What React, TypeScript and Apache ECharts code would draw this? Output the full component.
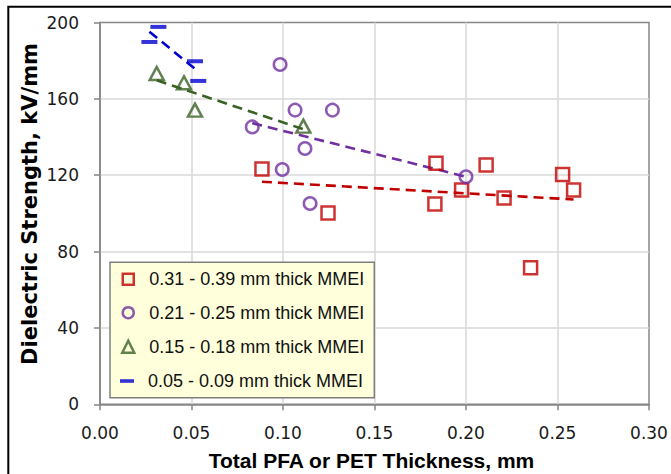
import React, { useEffect, useRef } from "react";
import * as echarts from "echarts";

// ---- data ----
const seriesNames = [
  "0.31 - 0.39 mm thick MMEI",
  "0.21 - 0.25 mm thick MMEI",
  "0.15 - 0.18 mm thick MMEI",
  "0.05 - 0.09 mm thick MMEI",
];

const redX = [0.0885, 0.1246, 0.1836, 0.183, 0.1976, 0.211, 0.2208, 0.2353, 0.2528, 0.2588];
const redY = [123.2, 100.2, 126.3, 104.9, 112.2, 125.3, 108.1, 71.5, 120.4, 112.2];

const purpleX = [0.0984, 0.1066, 0.127, 0.0832, 0.112, 0.0996, 0.1148, 0.2];
const purpleY = [178.0, 154.1, 154.1, 145.3, 134.0, 123.0, 105.2, 119.2];

const greenX = [0.031, 0.0459, 0.0519, 0.1111];
const greenY = [173.3, 168.4, 154.1, 145.7];

const blueX = [0.0319, 0.027, 0.0519, 0.0537];
const blueY = [197.7, 189.8, 179.7, 169.4];

// trend line end points
const redTrendX = [0.0885, 0.2588];
const redTrendY = [116.6, 107.3];
const purpleTrendX = [0.0832, 0.2];
const purpleTrendY = [147.3, 119.2];
const greenTrendX = [0.031, 0.1111];
const greenTrendY = [169.7, 144.1];
const blueTrendX = [0.027, 0.0537];
const blueTrendY = [195.2, 174.3];

const xTicks = { min: 0, max: 0.3, interval: 0.05 };
const yTicks = { min: 0, max: 200, interval: 40 };

const xTitle = "Total PFA or PET Thickness, mm";
const yTitle = "Dielectric Strength, kV/mm";

const zip = (xs: number[], ys: number[]) => xs.map((x, i) => [x, ys[i]]);

const RED = "#c00000";
const PURPLE = "#7030a0";
const GREEN = "#3a6126";
const BLUE = "#0000d0";

export default function App() {
  const ref = useRef<HTMLDivElement>(null);

  useEffect(() => {
    if (!ref.current) return;
    const chart = echarts.init(ref.current, undefined, { renderer: "svg" });

    const axisGray = "#868686";
    const gridGray = "#d9d9d9";
    const dash = [10, 6];

    const hollow = (c: string) => ({ color: "rgba(0,0,0,0)", borderColor: c, borderWidth: 2.5 });

    const trend = (name: string, xs: number[], ys: number[], c: string) => ({
      type: "line",
      name,
      data: zip(xs, ys),
      symbol: "none",
      silent: true,
      z: 3,
      lineStyle: { color: c, width: 2.6, type: dash },
    });

    const legendRows = [279.3, 312.7, 346.7, 381];
    const legendIconCenterX = 127;
    const legendIcons = [
      "path://M0,0H11V11H0Z",
      "circle",
      "path://M6,0L12,12H0Z",
      "path://M0,0H14V3.6H0Z",
    ];
    const legendIconW = [11, 11, 12, 14];
    const legendIconH = [11, 11, 12, 3.6];
    const legendStyles = [
      hollow(RED),
      hollow(PURPLE),
      hollow(GREEN),
      { color: BLUE, borderWidth: 0 },
    ];

    chart.setOption({
      animation: false,
      backgroundColor: "#ffffff",
      grid: {
        left: 100,
        top: 22.5,
        width: 549,
        height: 381.8,
        show: true,
        borderColor: axisGray,
        borderWidth: 1.5,
        backgroundColor: "#ffffff",
        containLabel: false,
        outerBoundsMode: "none",
      },
      xAxis: {
        type: "value",
        min: xTicks.min,
        max: xTicks.max,
        interval: xTicks.interval,
        axisLine: { show: true, lineStyle: { color: axisGray, width: 1.5 } },
        axisTick: { show: true, inside: false, length: 6, lineStyle: { color: axisGray, width: 1.5 } },
        splitLine: { show: true, showMinLine: false, showMaxLine: false, lineStyle: { color: gridGray, width: 1.5 } },
        axisLabel: {
          formatter: (v: number) => v.toFixed(2),
          fontFamily: "DejaVu Sans",
          fontSize: 17,
          color: "#1a1a1a",
          margin: 20,
        },
      },
      yAxis: {
        type: "value",
        min: yTicks.min,
        max: yTicks.max,
        interval: yTicks.interval,
        axisLine: { show: true, lineStyle: { color: axisGray, width: 1.5 } },
        axisTick: { show: true, inside: false, length: 6, lineStyle: { color: axisGray, width: 1.5 } },
        splitLine: { show: true, showMinLine: false, showMaxLine: false, lineStyle: { color: gridGray, width: 1.5 } },
        axisLabel: {
          fontFamily: "DejaVu Sans",
          fontSize: 17,
          color: "#1a1a1a",
          margin: 21,
        },
      },
      legend: seriesNames.map((n, i) => ({
        left: legendIconCenterX - legendIconW[i] / 2,
        top: legendRows[i] - 10,
        padding: 0,
        itemWidth: 32,
        itemHeight: legendIconH[i],
        selectedMode: false,
        symbolKeepAspect: true,
        textStyle: { fontFamily: "Liberation Sans", fontSize: 18, color: "#111", lineHeight: 20 },
        data: [{ name: n, icon: legendIcons[i], itemStyle: legendStyles[i] }],
      })),
      graphic: [
        {
          type: "rect",
          z: 3,
          shape: { x: 110, y: 262.3, width: 264.3, height: 135.5 },
          style: { fill: "#ffffdb", stroke: "#7f7f7f", lineWidth: 1.5 },
          silent: true,
        },
        {
          type: "rect",
          z: 10,
          shape: { x: 8.3, y: 6.8, width: 800, height: 800 },
          style: { fill: "none", stroke: "#000", lineWidth: 2 },
          silent: true,
        },
        {
          type: "text",
          z: 10,
          x: 371.5,
          y: 460.5,
          style: {
            text: xTitle,
            fontFamily: "Liberation Sans",
            fontWeight: "bold",
            fontSize: 21,
            fill: "#000",
            textAlign: "center",
            textVerticalAlign: "middle",
          },
        },
        {
          type: "text",
          z: 10,
          x: 30,
          y: 204,
          rotation: Math.PI / 2,
          style: {
            text: yTitle,
            fontFamily: "DejaVu Sans",
            fontWeight: "bold",
            fontSize: 21,
            fill: "#000",
            textAlign: "center",
            textVerticalAlign: "middle",
          },
        },
      ],
      series: [
        trend("trendRed", redTrendX, redTrendY, RED),
        trend("trendPurple", purpleTrendX, purpleTrendY, PURPLE),
        trend("trendGreen", greenTrendX, greenTrendY, GREEN),
        trend("trendBlue", blueTrendX, blueTrendY, BLUE),
        {
          type: "scatter",
          name: seriesNames[0],
          data: zip(redX, redY),
          symbol: "rect",
          symbolSize: 13,
          itemStyle: hollow(RED),
          silent: true,
          z: 4,
        },
        {
          type: "scatter",
          name: seriesNames[1],
          data: zip(purpleX, purpleY),
          symbol: "circle",
          symbolSize: 12.5,
          itemStyle: hollow(PURPLE),
          silent: true,
          z: 4,
        },
        {
          type: "scatter",
          name: seriesNames[2],
          data: zip(greenX, greenY),
          symbol: "triangle",
          symbolSize: [14, 13],
          itemStyle: hollow(GREEN),
          silent: true,
          z: 4,
        },
        {
          type: "scatter",
          name: seriesNames[3],
          data: zip(blueX, blueY),
          symbol: "rect",
          symbolSize: [16, 4],
          itemStyle: { color: BLUE },
          silent: true,
          z: 4,
        },
      ],
    });

    return () => chart.dispose();
  }, []);

  return (
    <div
      ref={ref}
      style={{ position: "fixed", left: 0, top: 0, width: 671, height: 474 }}
    />
  );
}
